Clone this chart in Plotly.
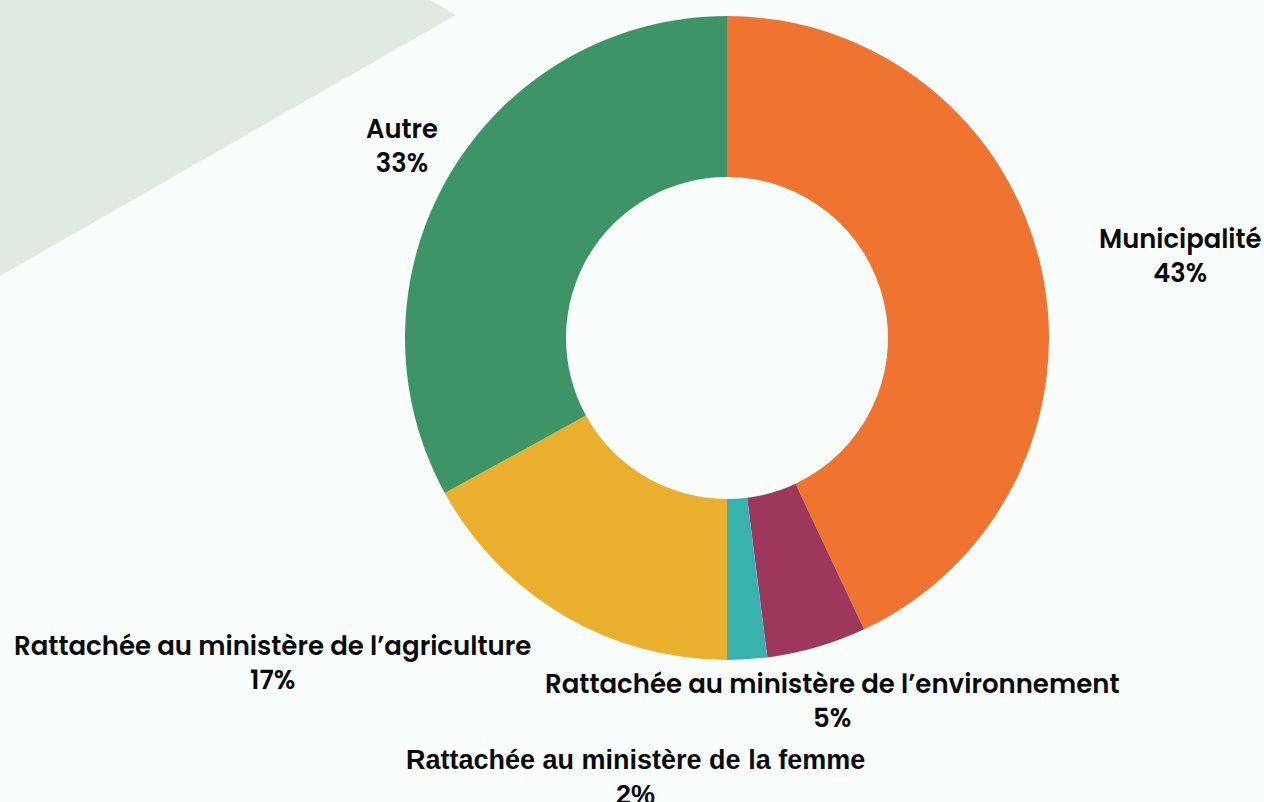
import plotly.graph_objects as go

categories = [
    "Municipalité",
    "Rattachée au ministère de l’environnement",
    "Rattachée au ministère de la femme",
    "Rattachée au ministère de l’agriculture",
    "Autre",
]
values = [43, 5, 2, 17, 33]
colors = ["#EE7430", "#9E375C", "#38B2AE", "#EAB02D", "#3D9567"]

W, H = 1264, 802

fig = go.Figure()
fig.add_trace(go.Pie(
    labels=categories,
    values=values,
    sort=False,
    direction="clockwise",
    rotation=0,
    hole=0.5,
    marker=dict(colors=colors, line=dict(width=0)),
    textinfo="none",
    hoverinfo="label+percent",
    showlegend=False,
    domain=dict(x=[405 / W, 1049 / W], y=[1 - 660 / H, 1 - 16 / H]),
))

POP = "Poppins, Inter, sans-serif"
ARI = "Liberation Sans, Arial, sans-serif"
# label placement (pixel centres of each two-line label), font family, size, weight
label_pos = {
    "Municipalité": (1180, 256, POP, 25.8, 600),
    "Rattachée au ministère de l’environnement": (832, 701, POP, 26, 600),
    "Rattachée au ministère de la femme": (635, 777, ARI, 27, 700),
    "Rattachée au ministère de l’agriculture": (272, 663, POP, 26, 600),
    "Autre": (402, 146, POP, 25.8, 600),
}
for cat, val in zip(categories, values):
    px, py, fam, fs, fw = label_pos[cat]
    fig.add_annotation(
        x=px / W, y=1 - py / H, xref="paper", yref="paper",
        xanchor="center", yanchor="middle", showarrow=False,
        text=f"{cat}<br>{val}%",
        font=dict(family=fam, size=fs, color="#0A0A0A", weight=fw),
        align="center",
    )

fig.add_shape(
    type="path", xref="paper", yref="paper",
    path=f"M 0 1 L {430 / W} 1 L {456 / W} {1 - 15 / H} L 0 {1 - 276 / H} Z",
    fillcolor="#E1EAE0", line=dict(width=0), layer="below",
)

fig.update_layout(
    width=W, height=H,
    margin=dict(l=0, r=0, t=0, b=0),
    paper_bgcolor="#F9FEFC",
    plot_bgcolor="#F9FEFC",
)

fig.write_html(
    "out.html",
    config={"displayModeBar": False},
    post_script="document.body.style.margin='0';document.body.style.overflow='hidden';",
)
